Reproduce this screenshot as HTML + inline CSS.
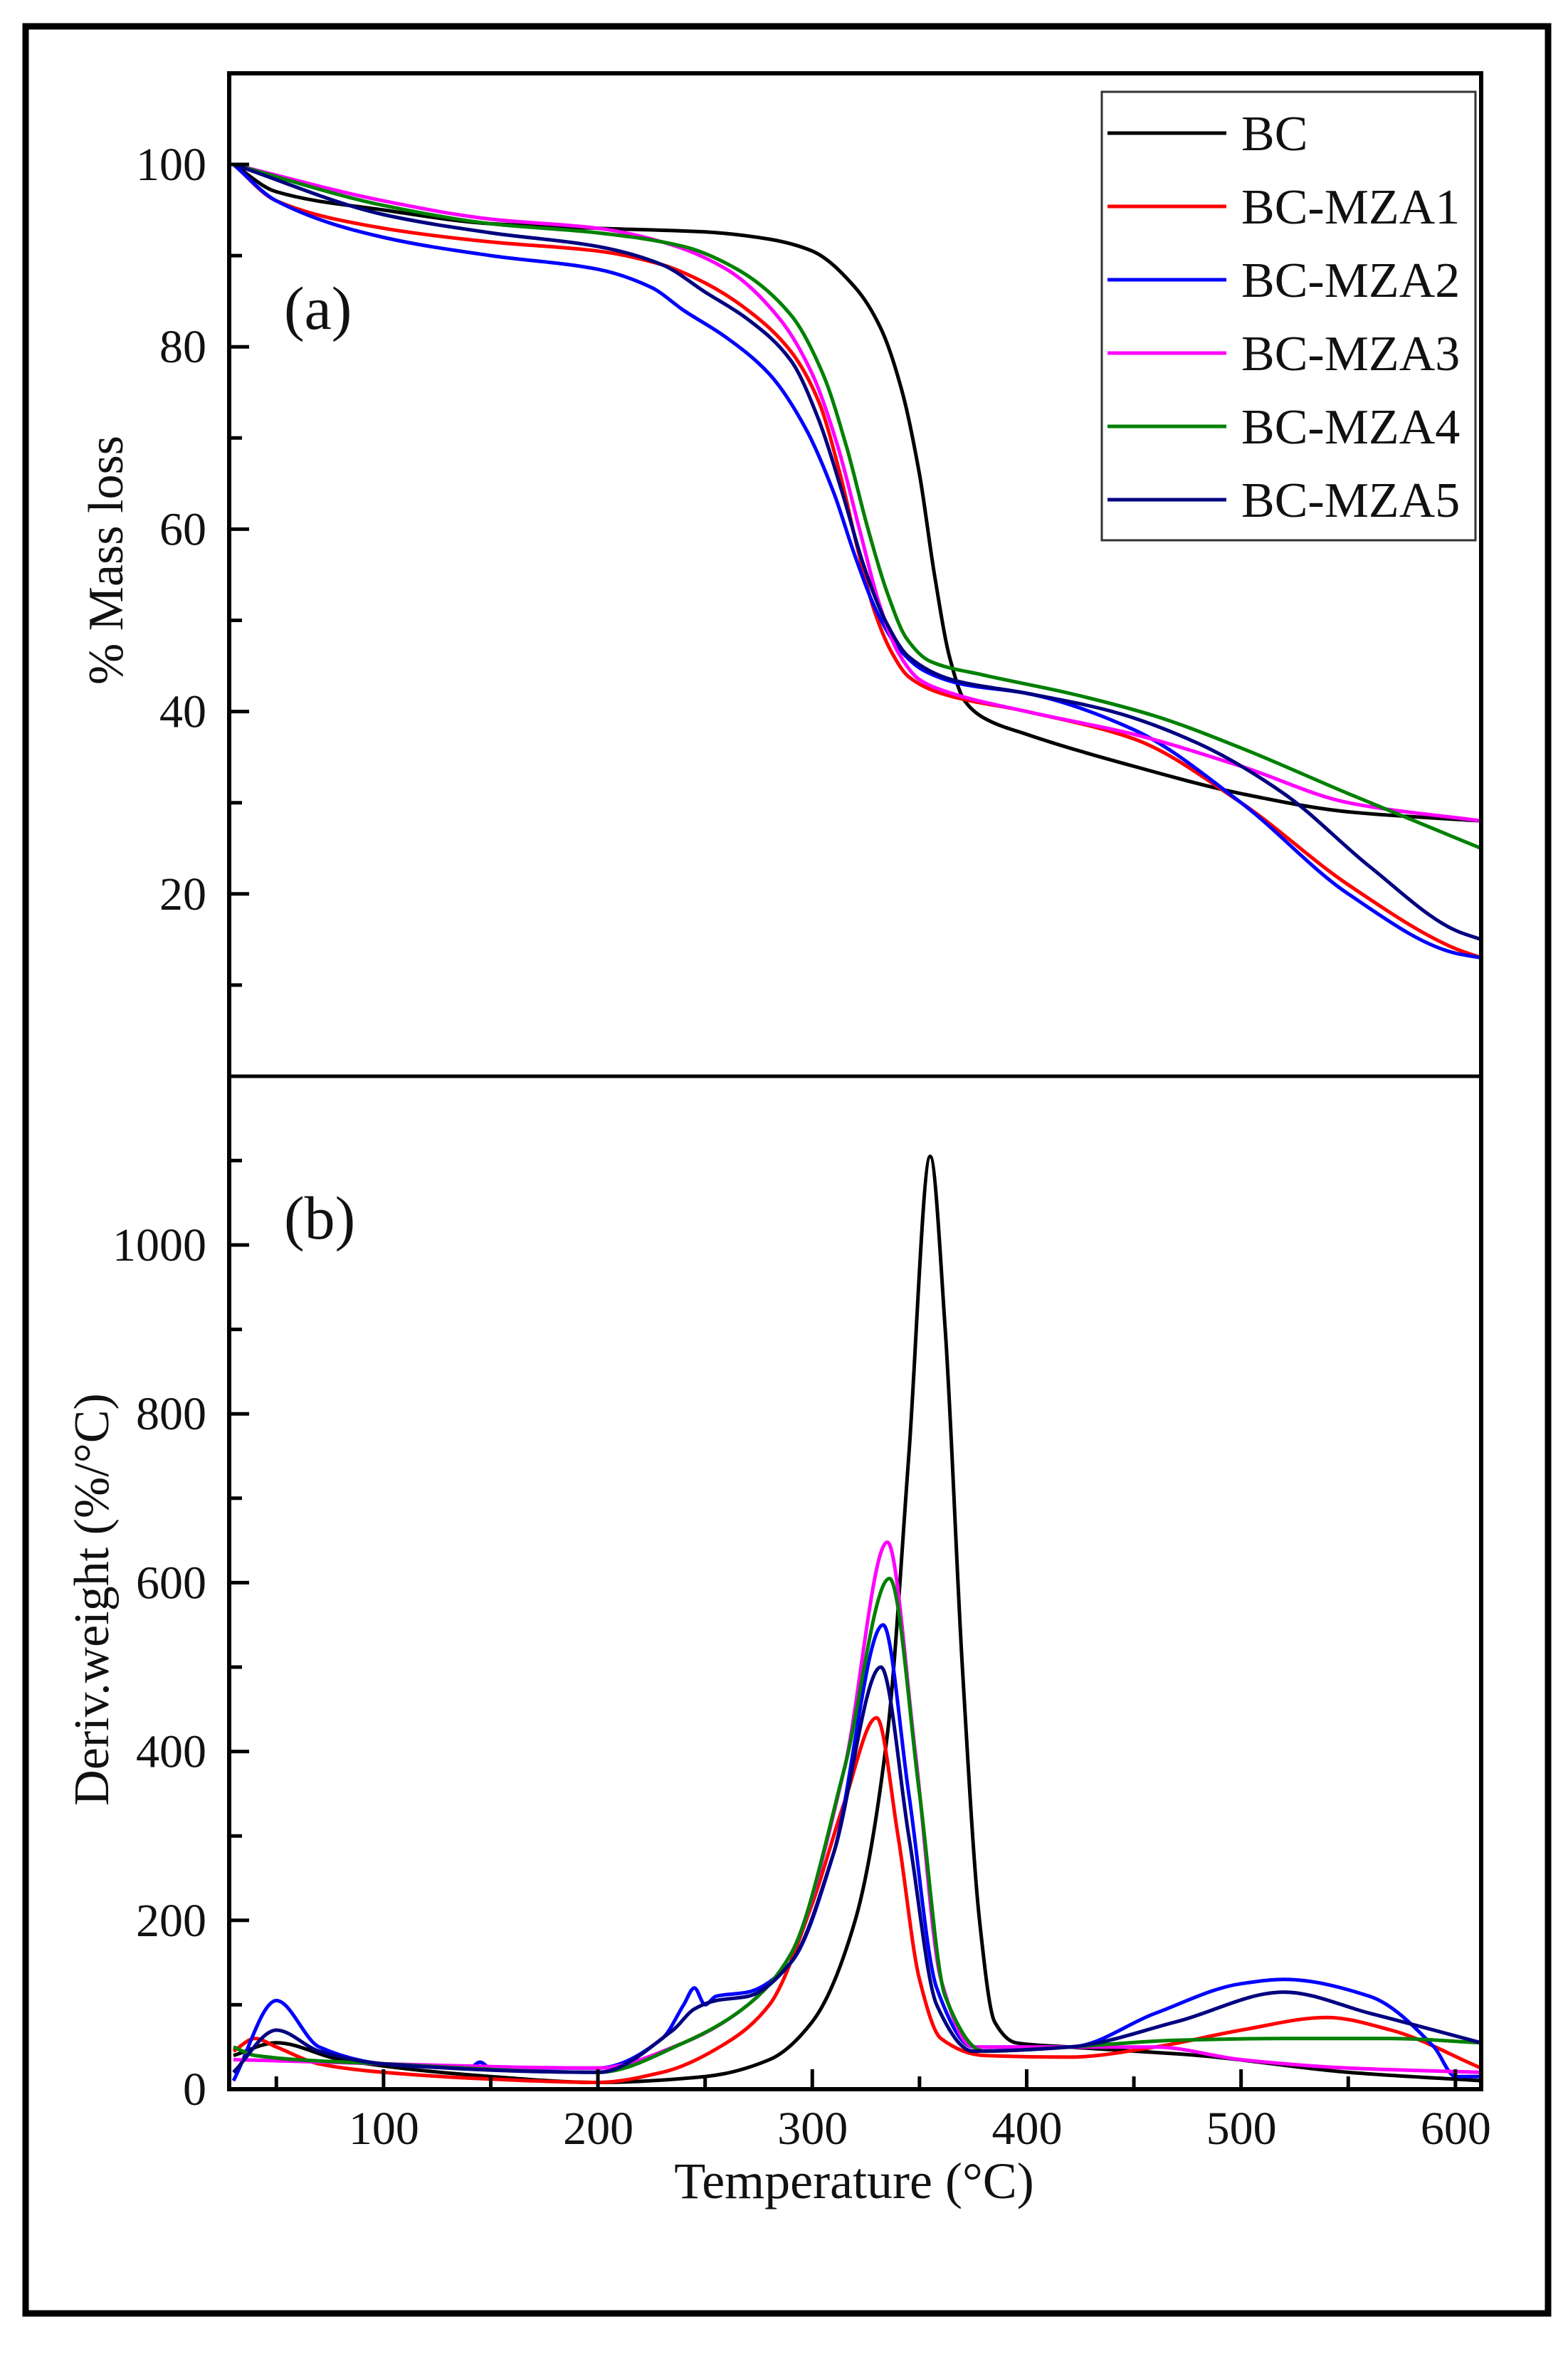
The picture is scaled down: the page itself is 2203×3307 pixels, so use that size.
<!DOCTYPE html>
<html><head><meta charset="utf-8">
<style>
html,body{margin:0;padding:0;background:#fff;}
svg{display:block;}
text{font-family:"Liberation Serif",serif;fill:#111;}
</style></head>
<body>
<svg id="s" width="2203" height="3307" viewBox="0 0 2203 3307" xmlns="http://www.w3.org/2000/svg">
<rect x="36" y="37" width="2139" height="3213" fill="none" stroke="#000" stroke-width="9"/>
<g id="curves" fill="none" stroke-width="5" stroke-linejoin="round"></g>
<rect x="322" y="103" width="1759" height="2832" fill="none" stroke="#000" stroke-width="6"/>
<line x1="322" y1="1512" x2="2081" y2="1512" stroke="#000" stroke-width="5"/>
<g id="ticks" stroke="#000" stroke-width="5"></g>
<g id="labels" font-size="66" text-anchor="end"></g>
<text x="399" y="462" font-size="86">(a)</text>
<text x="399" y="1740" font-size="86">(b)</text>
<text transform="translate(172,787) rotate(-90)" font-size="70" text-anchor="middle">% Mass loss</text>
<text transform="translate(152,2247) rotate(-90)" font-size="70" text-anchor="middle">Deriv.weight (%/°C)</text>
<text x="1200" y="3088" font-size="72" text-anchor="middle">Temperature (°C)</text>
<rect x="1548" y="129" width="525" height="630" fill="#fff" stroke="#333" stroke-width="3"/>
<g id="legend" font-size="70"></g>
</svg>
<script>
var X=function(t){return 322+(t-28)*3.012;};
var YA=function(v){return 1512-v*12.81;};
var YB=function(v){return 2935-v*1.186;};
var col={BC:"#000",M1:"#ff0000",M2:"#0000ff",M3:"#ff00ff",M4:"#008000",M5:"#000080"};
var tga={
BC:[[30,100],[50,97],[100,95],[150,93.5],[200,93],[250,92.6],[280,91.8],[300,90.5],[320,86.5],[332,82],[342,75],[350,66],[357,55],[364,46],[371,41.2],[380,39.3],[400,37.5],[450,34],[500,31],[550,29],[612,28]],
M1:[[30,100],[50,96],[100,93],[150,91.5],[200,90.5],[230,89],[250,87],[270,84],[290,79.5],[303,74],[313,66],[321,58],[329,51],[337,46.5],[345,43.8],[360,42],[400,40],[450,37],[500,30],[550,21],[600,14],[612,13]],
M2:[[30,100],[50,96],[100,92],[150,90],[200,88.5],[225,86.5],[240,84],[260,81],[280,77],[297,71],[310,64],[320,57],[330,51],[340,47],[352,44.5],[370,43],[400,42],[450,38],[500,30],[550,20],[600,13.5],[612,13]],
M3:[[30,100],[100,96],[150,94],[200,93],[230,91.5],[260,88.5],[285,83],[300,77],[312,69],[322,60],[331,52],[340,46.5],[350,43.5],[365,42],[400,40],[450,37.5],[500,34],[550,30],[612,28]],
M4:[[30,100],[100,95.5],[150,93.5],[200,92.5],[240,91],[265,88.5],[290,83.5],[305,77],[316,69],[326,60],[335,53],[344,48],[355,45.5],[380,44],[420,42],[460,39.5],[500,36],[550,31],[612,25]],
M5:[[30,100],[100,94.5],[150,92.5],[200,91],[230,89],[250,86],[270,83],[290,78.5],[303,72],[314,64],[324,56],[334,50],[345,46],[365,43.5],[400,42],[440,40],[480,36.5],[520,31],[560,23],[600,16],[612,15]]};
var dtg={
BC:[[30,40],[50,55],[80,35],[150,15],[200,8],[250,15],[280,35],[300,80],[320,200],[335,420],[345,750],[355,1105],[362,900],[370,500],[378,200],[385,80],[395,55],[420,50],[480,40],[550,20],[612,10]],
M1:[[30,45],[40,60],[50,50],[70,30],[100,20],[150,12],[200,8],[230,20],[260,55],[280,100],[300,220],[315,340],[330,440],[340,300],[350,130],[360,60],[380,40],[420,38],[460,50],[500,70],[540,85],[570,70],[612,25]],
M2:[[30,10],[50,105],[70,50],[100,30],[140,25],[145,32],[150,25],[200,25],[230,60],[240,100],[245,120],[250,100],[255,110],[270,115],[290,150],[310,280],[333,550],[345,350],[358,120],[375,50],[420,50],[460,90],[500,125],[520,130],[560,110],[590,50],[600,15],[612,15]],
M3:[[30,35],[60,33],[100,30],[200,25],[240,55],[270,100],[290,160],[315,380],[335,648],[348,400],[360,130],[375,50],[420,50],[460,50],[500,35],[550,25],[612,20]],
M4:[[30,50],[40,40],[100,30],[200,20],[240,55],[270,100],[290,160],[315,380],[336,605],[350,350],[362,110],[380,45],[420,50],[470,58],[520,60],[570,60],[612,55]],
M5:[[30,20],[50,70],[70,45],[100,30],[200,20],[235,70],[245,95],[255,105],[270,110],[290,150],[310,280],[332,500],[345,300],[358,100],[375,45],[420,50],[470,80],[520,115],[560,90],[612,55]]};
function path(pts,fy){
 var p=pts.map(function(a){return [X(a[0]),fy(a[1])];});
 var n=p.length,d=[],m=[];
 for(var i=0;i<n-1;i++)d[i]=(p[i+1][1]-p[i][1])/(p[i+1][0]-p[i][0]);
 m[0]=d[0];m[n-1]=d[n-2];
 for(var i=1;i<n-1;i++){ if(d[i-1]*d[i]<=0)m[i]=0; else {var w1=2*(p[i+1][0]-p[i][0])+(p[i][0]-p[i-1][0]),w2=(p[i+1][0]-p[i][0])+2*(p[i][0]-p[i-1][0]);m[i]=(w1+w2)/(w1/d[i-1]+w2/d[i]);} }
 var s="M"+p[0][0].toFixed(1)+","+p[0][1].toFixed(1);
 for(var i=0;i<n-1;i++){var h=(p[i+1][0]-p[i][0])/3;
  s+=" C"+(p[i][0]+h).toFixed(1)+","+(p[i][1]+m[i]*h).toFixed(1)+" "+(p[i+1][0]-h).toFixed(1)+","+(p[i+1][1]-m[i+1]*h).toFixed(1)+" "+p[i+1][0].toFixed(1)+","+p[i+1][1].toFixed(1);}
 return s;
}
var NS="http://www.w3.org/2000/svg";
function el(g,tag,attrs,txt){var e=document.createElementNS(NS,tag);for(var k in attrs)e.setAttribute(k,attrs[k]);if(txt!=null)e.textContent=txt;g.appendChild(e);return e;}
var cg=document.getElementById("curves");
["BC","M1","M2","M3","M4","M5"].forEach(function(k){
 el(cg,"path",{d:path(tga[k],YA),stroke:col[k]});
 el(cg,"path",{d:path(dtg[k],YB),stroke:col[k]});
});
var tg=document.getElementById("ticks"),lg=document.getElementById("labels");
for(var v=10;v<=100;v+=10){var y=YA(v);var maj=v%20==0;el(tg,"line",{x1:322,y1:y,x2:322+(maj?28:18),y2:y});if(maj)el(lg,"text",{x:290,y:y+22},String(v));}
for(var v=0;v<=1100;v+=100){var y=YB(v);var maj=v%200==0;el(tg,"line",{x1:322,y1:y,x2:322+(maj?28:18),y2:y});if(maj)el(lg,"text",{x:290,y:y+22},String(v));}
for(var t=50;t<=600;t+=50){var x=X(t);var maj=t%100==0;el(tg,"line",{x1:x,y1:2935,x2:x,y2:2935-(maj?28:18)});if(maj)el(lg,"text",{x:x+50,y:3012},String(t));}
var leg=document.getElementById("legend");
var names=["BC","BC-MZA1","BC-MZA2","BC-MZA3","BC-MZA4","BC-MZA5"],keys=["BC","M1","M2","M3","M4","M5"];
for(var i=0;i<6;i++){var y=187+i*103;el(leg,"line",{x1:1556,y1:y,x2:1723,y2:y,stroke:col[keys[i]],"stroke-width":5});el(leg,"text",{x:1744,y:y+24},names[i]);}
</script>
</body></html>
